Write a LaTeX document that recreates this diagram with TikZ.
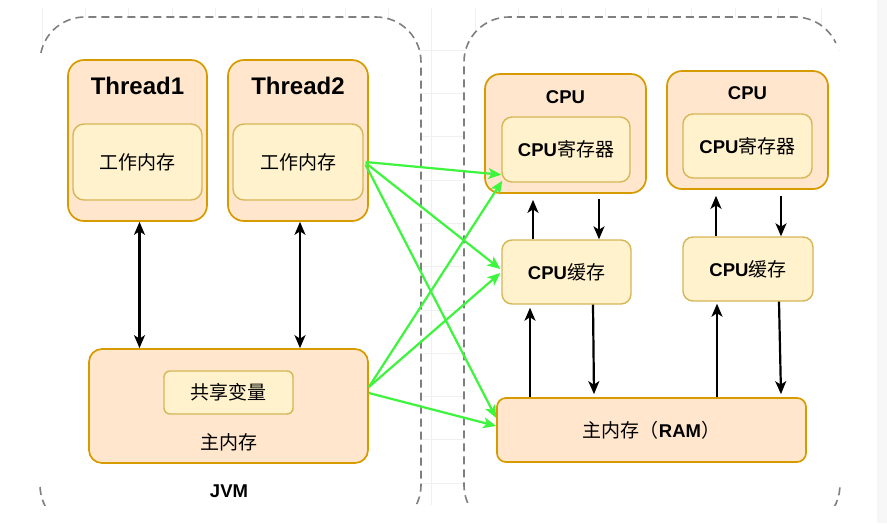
\documentclass[tikz,border=0pt]{standalone}
\usepackage{fontspec}
\setmainfont{Liberation Sans}
\newfontfamily\cjk{Noto Sans CJK SC}
\usetikzlibrary{arrows.meta}
\definecolor{outerfill}{HTML}{FFE6CC}
\definecolor{outerline}{HTML}{D79B00}
\definecolor{innerfill}{HTML}{FFF2CC}
\definecolor{innerline}{HTML}{D6B656}
\definecolor{grn}{HTML}{3DF53D}
\definecolor{dashgray}{HTML}{7F7F7F}
\definecolor{gridc}{HTML}{F0F0F0}
\definecolor{sidegray}{HTML}{F7F7F7}
\begin{document}
\begin{tikzpicture}[x=1pt,y=-1pt,
  outerbox/.style={draw=outerline, fill=outerfill, line width=1.7pt, rounded corners=16pt, inner sep=0pt},
  innerbox/.style={draw=innerline, fill=innerfill, line width=1.4pt, rounded corners=11pt, inner sep=0pt},
  lbl/.style={inner sep=0pt, font=\bfseries\fontsize{18.5}{20}\selectfont},
  biglbl/.style={inner sep=0pt, font=\bfseries\fontsize{24}{26}\selectfont},
  cj/.style={font=\cjk\fontsize{19}{21}\selectfont},
  cont/.style={draw=dashgray, line width=1.6pt, dash pattern=on 8pt off 5pt},
  blk/.style={draw=black, line width=2.2pt, -{Stealth[length=13pt,width=11pt,inset=3.5pt]}},
  blkboth/.style={draw=black, line width=2.2pt, {Stealth[length=13pt,width=11pt,inset=3.5pt]}-{Stealth[length=13pt,width=11pt,inset=3.5pt]}},
  gr/.style={draw=grn, line width=2.2pt, -{Stealth[length=13pt,width=11pt,inset=3.5pt]}},
]
\useasboundingbox (0,0) rectangle (887,523);
\fill[white] (0,0) rectangle (887,523);
\fill[sidegray] (877,0) rectangle (887,523);
\begin{scope}
\clip (0,0) rectangle (877,505);
% faint grid
\foreach \i in {0,...,18} \draw[gridc, line width=0.6pt] ({42+43.3*\i},8) -- ({42+43.3*\i},505);
\foreach \j in {1,...,11} \draw[gridc, line width=0.6pt] (40,{6.7+43.3*\j}) -- (840,{6.7+43.3*\j});
% containers
\fill[white, rounded corners=45pt] (40,17) rectangle (421,530);
\fill[white, rounded corners=45pt] (464,17) rectangle (840,530);
\draw[cont] (40.9,53) arc[start angle=191.5, end angle=270, radius=45] -- (376,17)
  arc[start angle=270, end angle=360, radius=45] -- (421,485)
  arc[start angle=0, end angle=60, radius=45];
\draw[cont] (40.05,487) arc[start angle=177.5, end angle=110, radius=45];
\draw[cont] (474.5,513.9) arc[start angle=140, end angle=180, radius=45] -- (464,62)
  arc[start angle=180, end angle=270, radius=45] -- (795,17)
  arc[start angle=270, end angle=335, radius=45];
\draw[cont] (839.9,487.4) arc[start angle=3, end angle=60, radius=45];

% JVM side
\node[outerbox, minimum width=139pt, minimum height=161pt] (t1) at (137.5,140.5) {};
\node[innerbox, minimum width=129pt, minimum height=76pt, cj] (t1in) at (137.5,162) {工作内存};
\node[biglbl] (t1l) at (137.5,86) {Thread1};
\node[outerbox, minimum width=140pt, minimum height=161pt] (t2) at (298,140.5) {};
\node[innerbox, minimum width=130pt, minimum height=76pt, cj] (t2in) at (298,162) {工作内存};
\node[biglbl] (t2l) at (298,86) {Thread2};

\node[outerbox, rounded corners=13pt, minimum width=279pt, minimum height=114pt] (mm) at (228.5,406) {};
\node[innerbox, rounded corners=6pt, minimum width=129pt, minimum height=43pt, cj] (sv) at (228.5,392.5) {共享变量};
\node[cj, inner sep=0pt] (mml) at (229,442) {主内存};
\node[lbl] (jvm) at (229,491) {JVM};

% CPU side
\node[outerbox, rounded corners=15pt, minimum width=161pt, minimum height=119pt] (cpu1) at (565.5,133.5) {};
\node[innerbox, rounded corners=10pt, minimum width=128pt, minimum height=65pt] (cpu1in) at (566,149.5) {\bfseries\fontsize{18.5}{20}\selectfont CPU{\cjk\mdseries\fontsize{19}{21}\selectfont 寄存器}};
\node[lbl] (cpu1l) at (565.5,97) {CPU};
\node[outerbox, rounded corners=15pt, minimum width=161pt, minimum height=118pt] (cpu2) at (747.5,130) {};
\node[innerbox, rounded corners=10pt, minimum width=129pt, minimum height=64pt] (cpu2in) at (747.5,146) {\bfseries\fontsize{18.5}{20}\selectfont CPU{\cjk\mdseries\fontsize{19}{21}\selectfont 寄存器}};
\node[lbl] (cpu2l) at (747.5,93) {CPU};

\node[innerbox, rounded corners=10pt, minimum width=129pt, minimum height=64pt] (c1) at (566.5,272) {\bfseries\fontsize{18.5}{20}\selectfont CPU{\cjk\mdseries\fontsize{19}{21}\selectfont 缓存}};
\node[innerbox, rounded corners=10pt, minimum width=130pt, minimum height=64pt] (c2) at (748,269) {\bfseries\fontsize{18.5}{20}\selectfont CPU{\cjk\mdseries\fontsize{19}{21}\selectfont 缓存}};

\node[outerbox, rounded corners=9pt, minimum width=309pt, minimum height=64pt] (ram) at (651.5,430) {{\cjk\fontsize{19}{21}\selectfont 主内存（}{\bfseries\fontsize{18.5}{20}\selectfont RAM}{\cjk\fontsize{19}{21}\selectfont ）}};

% black arrows
\draw[blkboth] ([xshift=2pt]t1.south) -- ([xshift=2pt]t1.south |- mm.north);
\draw[blkboth] ([xshift=2pt]t2.south) -- ([xshift=2pt]t2.south |- mm.north);

\draw[blk] ([xshift=-33.5pt]c1.north) -- ([xshift=-33.5pt,yshift=-6pt]c1.north |- cpu1.south);
\draw[blk] ([xshift=32.5pt,yshift=-5pt]c1.north |- cpu1.south) -- ([xshift=32.5pt]c1.north);
\draw[blk] ([xshift=-32pt]c2.north) -- ([xshift=-32pt,yshift=-6pt]c2.north |- cpu2.south);
\draw[blk] ([xshift=33pt,yshift=-6pt]c2.north |- cpu2.south) -- ([xshift=33pt]c2.north);

\draw[blk] ([xshift=-36.5pt]c1.south |- ram.north) -- ([xshift=-36.5pt,yshift=-3pt]c1.south);
\draw[blk] ([xshift=26.5pt]c1.south) -- ([xshift=27.5pt,yshift=3pt]c1.south |- ram.north);
\draw[blk] ([xshift=-31pt]c2.south |- ram.north) -- ([xshift=-31pt,yshift=-2pt]c2.south);
\draw[blk] ([xshift=31pt]c2.south) -- ([xshift=33pt,yshift=3pt]c2.south |- ram.north);

% green arrows
\draw[gr] ([xshift=2pt]t2in.east) -- ([yshift=8pt]cpu1in.south west);
\draw[gr] ([xshift=2pt,yshift=-1pt]t2in.east) -- ([xshift=-1pt,yshift=3pt]c1.west);
\draw[gr] ([xshift=2pt,yshift=-3pt]t2in.east) -- ([yshift=12pt]ram.west);
\draw[gr] ([yshift=19pt]mm.east) -- ([xshift=1pt,yshift=2pt]cpu1in.south west);
\draw[gr] ([yshift=19pt]mm.east) -- ([xshift=-1pt,yshift=-1pt]c1.west);
\draw[gr] ([yshift=13pt]mm.east) -- ([yshift=4pt]ram.west);
\end{scope}
\end{tikzpicture}
\end{document}
